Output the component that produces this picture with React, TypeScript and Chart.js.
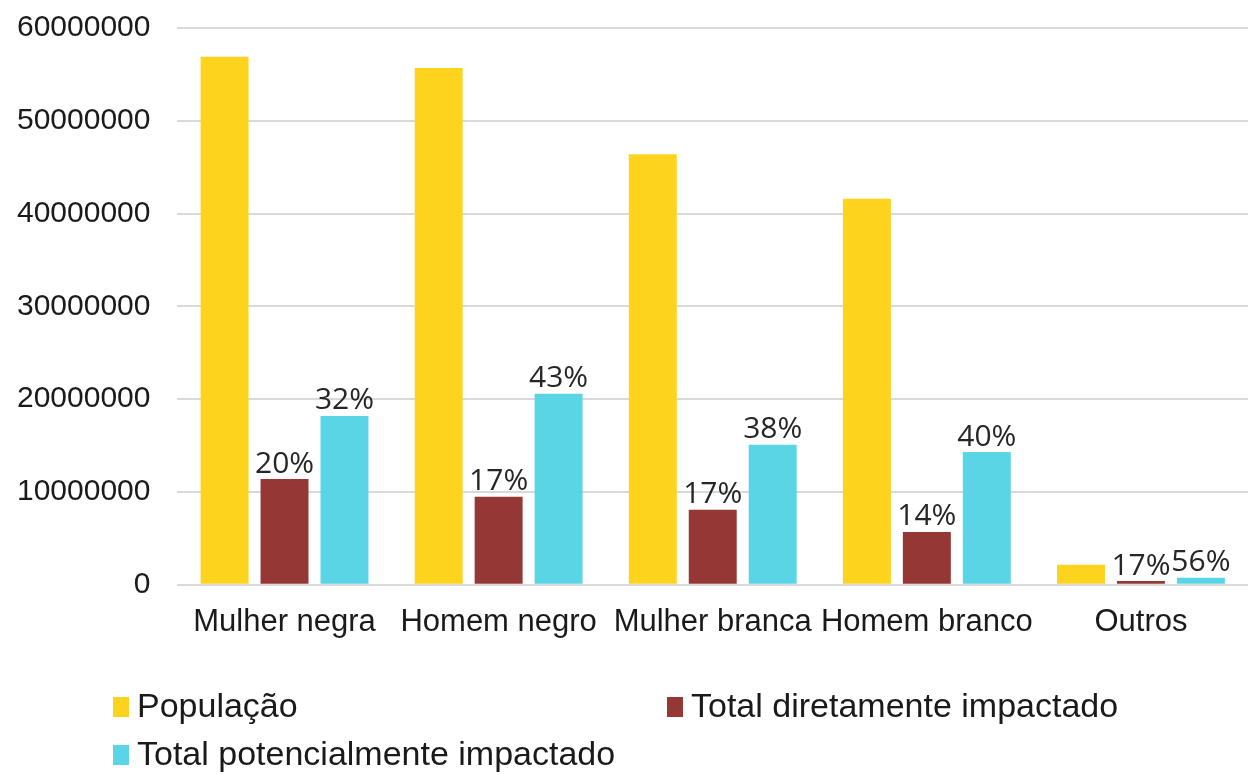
import React, { useEffect, useRef } from "react";
import { Chart, registerables } from "chart.js";

Chart.register(...registerables);

const categories = ["Mulher negra", "Homem negro", "Mulher branca", "Homem branco", "Outros"];
const populacao = [56900000, 55700000, 46400000, 41600000, 2150000];
const diretamente = [11400000, 9500000, 8100000, 5700000, 400000];
const potencialmente = [18200000, 20600000, 15100000, 14300000, 750000];
const pctDiretamente = ["20%", "17%", "17%", "14%", "17%"];
const pctPotencialmente = ["32%", "43%", "38%", "40%", "56%"];
const yTicks = [0, 10000000, 20000000, 30000000, 40000000, 50000000, 60000000];

const seriesLabels = ["População", "Total diretamente impactado", "Total potencialmente impactado"];
const colors = ["#FDD31E", "#953735", "#5AD5E5"];

const pctLabelPlugin = {
  id: "pctLabels",
  afterDatasetsDraw(chart: any) {
    const ctx = chart.ctx;
    ctx.save();
    ctx.font = '30px "Open Sans"';
    ctx.fillStyle = "#262626";
    ctx.textAlign = "center";
    ctx.textBaseline = "bottom";
    const sets: [number, string[]][] = [
      [1, pctDiretamente],
      [2, pctPotencialmente],
    ];
    sets.forEach(([di, labels]) => {
      const meta = chart.getDatasetMeta(di);
      meta.data.forEach((bar: any, i: number) => {
        ctx.fillText(labels[i], bar.x, bar.y);
      });
    });
    ctx.restore();
  },
};

const legendPlugin = {
  id: "gridLegend",
  afterDraw(chart: any) {
    const ctx = chart.ctx;
    ctx.save();
    ctx.font = '34px "Liberation Sans"';
    ctx.textBaseline = "middle";
    ctx.textAlign = "left";
    const pos = [
      [113, chart.height - 67],
      [667, chart.height - 67],
      [113, chart.height - 19],
    ];
    chart.data.datasets.forEach((ds: any, i: number) => {
      const [x, y] = pos[i];
      ctx.fillStyle = ds.backgroundColor;
      ctx.fillRect(x, y - 10, 16, 20);
      ctx.fillStyle = "#1a1a1a";
      ctx.fillText(ds.label, x + 24, y + 1);
    });
    ctx.restore();
  },
};

export default function App() {
  const ref = useRef<HTMLCanvasElement | null>(null);
  useEffect(() => {
    document.body.style.margin = "0";
    if (!ref.current) return;
    const chart = new Chart(ref.current, {
      type: "bar",
      data: {
        labels: categories,
        datasets: [
          { label: seriesLabels[0], data: populacao, backgroundColor: colors[0] },
          { label: seriesLabels[1], data: diretamente, backgroundColor: colors[1] },
          { label: seriesLabels[2], data: potencialmente, backgroundColor: colors[2] },
        ],
      },
      options: {
        animation: false,
        responsive: false,
        maintainAspectRatio: false,
        layout: { padding: { top: 28, left: -10, right: 1, bottom: 122 } },
        datasets: { bar: { categoryPercentage: 0.84, barPercentage: 0.8 } },
        plugins: {
          legend: { display: false },
          tooltip: { enabled: false },
        },
        scales: {
          x: {
            grid: { display: false },
            border: { display: false },
            ticks: {
              autoSkip: false,
              maxRotation: 0,
              minRotation: 0,
              padding: 11,
              color: "#1a1a1a",
              font: { family: "Liberation Sans", size: 31 },
            },
          },
          y: {
            min: 0,
            max: 60000000,
            afterBuildTicks(axis: any) {
              axis.ticks = yTicks.map((v) => ({ value: v }));
            },
            afterFit(axis: any) {
              axis.paddingTop = 0;
              axis.paddingBottom = 0;
            },
            grid: { color: "#d9d9d9", lineWidth: 2, drawTicks: false },
            border: { display: false },
            ticks: {
              padding: 27,
              color: "#1a1a1a",
              font: { family: "Liberation Sans", size: 30 },
              callback: (v: any) => String(v),
            },
          },
        },
      },
      plugins: [pctLabelPlugin, legendPlugin],
    });
    return () => chart.destroy();
  }, []);
  return (
    <div style={{ width: 1249, height: 774 }}>
      <canvas ref={ref} width={1249} height={774} style={{ width: 1249, height: 774 }} />
    </div>
  );
}
